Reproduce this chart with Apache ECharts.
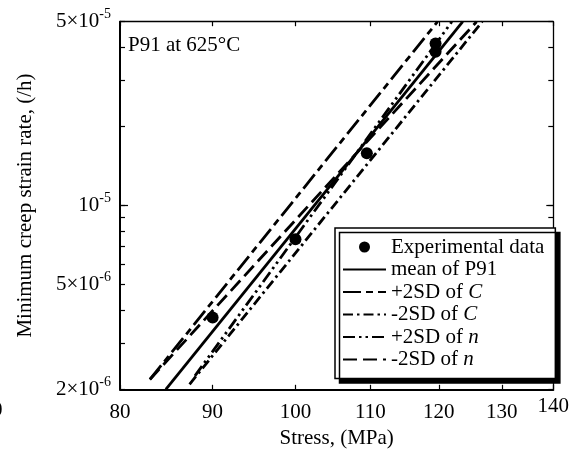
<!DOCTYPE html>
<html><head><meta charset="utf-8">
<script src="https://cdn.jsdelivr.net/npm/echarts@6/dist/echarts.min.js"></script>
<style>html,body{margin:0;padding:0;background:#fff}#c{width:579px;height:455px}</style>
</head><body><div id="c"></div>
<script>
// ---- data ----
const seriesNames = ['Experimental data', 'mean of P91', '+2SD of C', '-2SD of C', '+2SD of n', '-2SD of n'];
const expStress = [90, 100, 109.5, 119.5, 119.5];
const expRate = [3.75e-6, 7.44e-6, 1.58e-5, 4.13e-5, 3.84e-5];
const meanLine = [[84.8, 2.0e-6], [123.7, 5.0e-5]];
const plusC = [[83.1, 2.18e-6], [119.8, 5.0e-5]];
const minusC = [[87.4, 2.09e-6], [126.8, 5.0e-5]];
const plusN = [[88.0, 2.25e-6], [122.0, 5.0e-5]];
const minusN = [[83.1, 2.18e-6], [125.9, 5.0e-5]];
const xTickValues = [80, 90, 100, 110, 120, 130, 138.8];
const xTickLabels = ['80', '90', '100', '110', '120', '130', '140'];
const yTickValues = [2e-6, 3e-6, 4e-6, 5e-6, 6e-6, 7e-6, 8e-6, 9e-6, 1e-5, 2e-5, 3e-5, 4e-5, 5e-5];
const yMajorTicks = [1e-5];
const yLabelValues = [2e-6, 5e-6, 1e-5, 5e-5];
const annotation = 'P91 at 625°C';
const xName = 'Stress, (MPa)';
const yName = 'Minimum creep strain rate, (/h)';

// ---- chart ----
const FONT = '"Liberation Serif","Times New Roman",serif';
const FS = 21;
const X_MIN = 80, X_MAX = 138.8, Y_MIN = 2e-6, Y_MAX = 5e-5;

function xLabel(v) {
  for (let i = 0; i < xTickValues.length; i++) {
    if (Math.abs(v - xTickValues[i]) < 0.05) {
      return i === xTickValues.length - 1 ? '{up|' + xTickLabels[i] + '}' : xTickLabels[i];
    }
  }
  return '';
}
function yLabel(v) {
  const e = Math.floor(Math.log10(v) + 1e-9);
  const m = Math.round(v / Math.pow(10, e));
  return (m === 1 ? '{b|10}' : '{b|' + m + '×10}') + '{s|' + e + '}';
}
function xAxisDef(pos, main) {
  return {
    type: 'log', logBase: 10, min: X_MIN, max: X_MAX, position: pos,
    axisLine: { show: true, onZero: false, lineStyle: { color: '#000', width: main ? 2 : 1.3 } },
    axisTick: { show: true, inside: true, length: 4.5, customValues: xTickValues, lineStyle: { color: '#000', width: 1.2 } },
    axisLabel: main ? {
      show: true, customValues: xTickValues, formatter: xLabel, margin: 13,
      fontFamily: FONT, fontSize: FS, color: '#000',
      rich: { up: { fontFamily: FONT, fontSize: FS, color: '#000', lineHeight: 8 } }
    } : { show: false },
    splitLine: { show: false }, minorTick: { show: false },
    name: main ? xName : '', nameLocation: 'middle', nameGap: 28,
    nameTextStyle: { fontFamily: FONT, fontSize: FS, color: '#000' }
  };
}
function yAxisDef(pos, main, ticks, len, line) {
  return {
    type: 'log', logBase: 10, min: Y_MIN, max: Y_MAX, position: pos,
    axisLine: { show: line, lineStyle: { color: '#000', width: main ? 2 : 1.3 } },
    axisTick: { show: true, inside: true, length: len, customValues: ticks, lineStyle: { color: '#000', width: 1.2 } },
    axisLabel: main ? {
      show: true, customValues: yLabelValues, formatter: yLabel, margin: 9,
      color: '#000',
      rich: {
        b: { fontFamily: FONT, fontSize: FS, color: '#000' },
        s: { fontFamily: FONT, fontSize: 14, color: '#000', padding: [0, 0, 14, 0] }
      }
    } : { show: false },
    splitLine: { show: false }, minorTick: { show: false },
    name: main ? yName : '', nameLocation: 'middle', nameGap: 84,
    nameTextStyle: { fontFamily: FONT, fontSize: FS, color: '#000' }
  };
}
function lineSeries(name, data, dash) {
  return {
    name: name, type: 'line', data: data, symbol: 'none', clip: true,
    xAxisIndex: 0, yAxisIndex: 0, z: 3, animation: false,
    lineStyle: { color: '#000', width: 2.8, type: dash, cap: 'butt' },
    itemStyle: { color: '#000' }
  };
}

const chart = echarts.init(document.getElementById('c'), null, { renderer: 'canvas' });
chart.setOption({
  animation: false,
  backgroundColor: '#fff',
  grid: { left: 120, right: 25.7, top: 21.7, bottom: 65.7, containLabel: false },
  title: {
    text: annotation, left: 128, top: 35, padding: 0,
    textStyle: { fontFamily: FONT, fontSize: FS, fontWeight: 'normal', color: '#000' }
  },
  graphic: [{
    type: 'text', left: -8, top: 400, silent: true,
    style: { text: '0', fontFamily: FONT, fontSize: FS, fill: '#000' }
  }],
  legend: {
    orient: 'vertical', left: 335, top: 228, padding: [8, 11, 8, 7],
    itemGap: 0.5, itemWidth: 43, itemHeight: 11,
    backgroundColor: '#fff', borderColor: '#000', borderWidth: 1.5,
    shadowColor: '#000', shadowBlur: 0, shadowOffsetX: 4.5, shadowOffsetY: 4.5,
    selectedMode: false,
    data: seriesNames.map((n, i) => i === 0
      ? { name: n, itemStyle: { color: '#000', opacity: 1 } }
      : { name: n, itemStyle: { opacity: 0 } }),
    formatter: function (n) { return n.replace(/of (\w)$/, 'of {i|$1}'); },
    textStyle: {
      fontFamily: FONT, fontSize: FS, color: '#000', lineHeight: 22,
      rich: { i: { fontFamily: FONT, fontSize: FS, fontStyle: 'italic', color: '#000', lineHeight: 22 } }
    }
  },
  xAxis: [xAxisDef('bottom', true), xAxisDef('top', false)],
  yAxis: [
    yAxisDef('left', true, yTickValues, 5, true),
    yAxisDef('right', false, yTickValues, 5, true),
    yAxisDef('left', false, yMajorTicks, 8, false),
    yAxisDef('right', false, yMajorTicks, 7, false)
  ],
  series: [
    {
      name: seriesNames[0], type: 'scatter', xAxisIndex: 0, yAxisIndex: 0, z: 5,
      symbol: 'circle', symbolSize: 12, itemStyle: { color: '#000', opacity: 1 },
      data: expStress.map((s, i) => [s, expRate[i]])
    },
    lineSeries(seriesNames[1], meanLine, 'solid'),
    lineSeries(seriesNames[2], plusC, [18, 5, 7, 5]),
    lineSeries(seriesNames[3], minusC, [10, 4, 2.5, 4]),
    lineSeries(seriesNames[4], plusN, [12, 4, 2.5, 4, 2.5, 4]),
    lineSeries(seriesNames[5], minusN, [14, 6])
  ]
});
</script>
</body></html>
